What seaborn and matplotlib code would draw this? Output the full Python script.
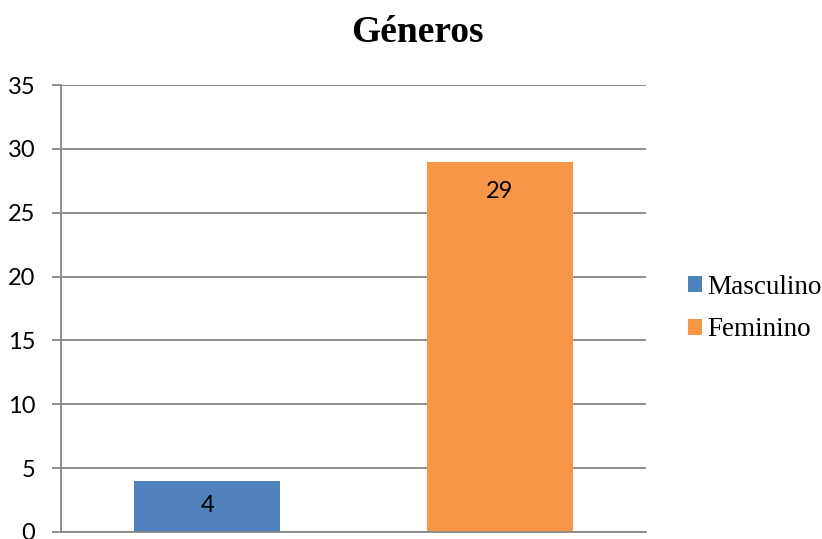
import seaborn as sns
import matplotlib.pyplot as plt
from matplotlib.patches import Patch
from matplotlib.transforms import offset_copy

# Data
categories = ["Masculino", "Feminino"]
counts = [4, 29]
colors = ["#4F81BD", "#F79646"]
y_ticks = [0, 5, 10, 15, 20, 25, 30, 35]

sns.set_theme(style="white")
plt.rcParams['font.family'] = ['Lato', 'DejaVu Sans']
plt.rcParams['text.color'] = 'black'

fig = plt.figure(figsize=(8.22, 5.39), dpi=100)
ax = fig.add_axes([61 / 822, 7 / 539, 585 / 822, 447 / 539])

sns.barplot(x=categories, y=counts, hue=categories, palette=colors,
            width=0.5, saturation=1, linewidth=0, legend=False, ax=ax)

ax.set_ylim(0, 35)
ax.set_yticks(y_ticks)
ax.set_xticks([])
ax.set_xlabel("")
ax.set_ylabel("")
ax.grid(axis='y', color='#868686', linewidth=1.3)
ax.set_axisbelow(True)
for side in ['top', 'right']:
    ax.spines[side].set_visible(False)
for side in ['left', 'bottom']:
    ax.spines[side].set_color('#868686')
    ax.spines[side].set_linewidth(1.3)
ax.tick_params(axis='y', length=6.5, width=1.3, color='#868686', pad=12,
               labelsize=17, labelcolor='black', left=True)

# Data labels inside bar ends
for bar, val in zip(ax.patches, counts):
    top_px = ax.transData.transform((0, val))[1]
    base_px = ax.transData.transform((0, 0))[1]
    off = min(29.5, (top_px - base_px) / 2 - 1)
    tr = offset_copy(ax.transData, fig=fig, x=0, y=-off * 72 / fig.dpi, units='points')
    ax.text(bar.get_x() + bar.get_width() / 2, val, str(val), transform=tr,
            ha='center', va='center', fontsize=17, color='black')

fig.suptitle("Géneros", x=0.508, y=1 - 42 / 539, va='baseline', color='black',
             fontsize=27, fontweight='bold', family=['Liberation Serif'])

handles = [Patch(facecolor=c, edgecolor='none') for c in colors]
fig.legend(handles, categories, loc='center left', bbox_to_anchor=(688 / 822, 1 - 308.5 / 539),
           frameon=False, prop={'family': 'Liberation Serif', 'size': 19.5},
           handlelength=0.52, handleheight=0.52, handletextpad=0.2,
           labelspacing=0.65, borderpad=0, borderaxespad=0, labelcolor='black')

fig.savefig("out.png", dpi=100)
